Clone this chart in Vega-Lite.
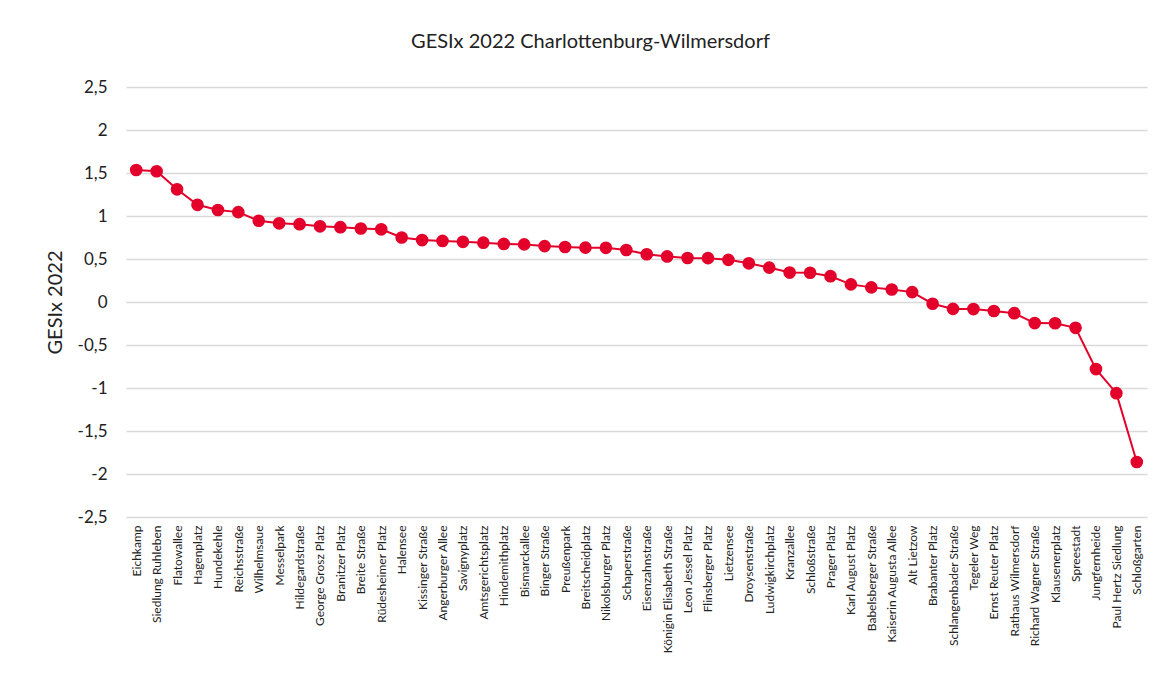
{
  "$schema": "https://vega.github.io/schema/vega-lite/v6.json",
  "width": 1021,
  "height": 430,
  "autosize": {"type": "none"},
  "padding": {"left": 126, "top": 87, "right": 18, "bottom": 163},
  "background": "white",
  "title": {
    "text": "GESIx 2022 Charlottenburg-Wilmersdorf",
    "font": "Lato",
    "fontSize": 20,
    "fontWeight": "normal",
    "color": "#222222",
    "anchor": "middle",
    "dx": -46,
    "offset": 26
  },
  "data": {
    "values": [
      {"gebiet": "Eichkamp", "gesix": 1.535},
      {"gebiet": "Siedlung Ruhleben", "gesix": 1.52},
      {"gebiet": "Flatowallee", "gesix": 1.31},
      {"gebiet": "Hagenplatz", "gesix": 1.13},
      {"gebiet": "Hundekehle", "gesix": 1.07},
      {"gebiet": "Reichsstraße", "gesix": 1.045},
      {"gebiet": "Wilhelmsaue", "gesix": 0.945},
      {"gebiet": "Messelpark", "gesix": 0.915},
      {"gebiet": "Hildegardstraße", "gesix": 0.905},
      {"gebiet": "George Grosz Platz", "gesix": 0.88},
      {"gebiet": "Branitzer Platz", "gesix": 0.87},
      {"gebiet": "Breite Straße", "gesix": 0.855},
      {"gebiet": "Rüdesheimer Platz", "gesix": 0.845},
      {"gebiet": "Halensee", "gesix": 0.75},
      {"gebiet": "Kissinger Straße", "gesix": 0.72},
      {"gebiet": "Angerburger Allee", "gesix": 0.71},
      {"gebiet": "Savignyplatz", "gesix": 0.70},
      {"gebiet": "Amtsgerichtsplatz", "gesix": 0.69},
      {"gebiet": "Hindemithplatz", "gesix": 0.675},
      {"gebiet": "Bismarckallee", "gesix": 0.67},
      {"gebiet": "Binger Straße", "gesix": 0.65},
      {"gebiet": "Preußenpark", "gesix": 0.64},
      {"gebiet": "Breitscheidplatz", "gesix": 0.632},
      {"gebiet": "Nikolsburger Platz", "gesix": 0.63},
      {"gebiet": "Schaperstraße", "gesix": 0.605},
      {"gebiet": "Eisenzahnstraße", "gesix": 0.555},
      {"gebiet": "Königin Elisabeth Straße", "gesix": 0.53},
      {"gebiet": "Leon Jessel Platz", "gesix": 0.512},
      {"gebiet": "Flinsberger Platz", "gesix": 0.51},
      {"gebiet": "Lietzensee", "gesix": 0.49},
      {"gebiet": "Droysenstraße", "gesix": 0.45},
      {"gebiet": "Ludwigkirchplatz", "gesix": 0.40},
      {"gebiet": "Kranzallee", "gesix": 0.342},
      {"gebiet": "Schloßstraße", "gesix": 0.34},
      {"gebiet": "Prager Platz", "gesix": 0.30},
      {"gebiet": "Karl August Platz", "gesix": 0.205},
      {"gebiet": "Babelsberger Straße", "gesix": 0.17},
      {"gebiet": "Kaiserin Augusta Allee", "gesix": 0.145},
      {"gebiet": "Alt Lietzow", "gesix": 0.115},
      {"gebiet": "Brabanter Platz", "gesix": -0.02},
      {"gebiet": "Schlangenbader Straße", "gesix": -0.08},
      {"gebiet": "Tegeler Weg", "gesix": -0.082},
      {"gebiet": "Ernst Reuter Platz", "gesix": -0.105},
      {"gebiet": "Rathaus Wilmersdorf", "gesix": -0.13},
      {"gebiet": "Richard Wagner Straße", "gesix": -0.245},
      {"gebiet": "Klausenerplatz", "gesix": -0.247},
      {"gebiet": "Spreestadt", "gesix": -0.30},
      {"gebiet": "Jungfernheide", "gesix": -0.78},
      {"gebiet": "Paul Hertz Siedlung", "gesix": -1.06},
      {"gebiet": "Schloßgarten", "gesix": -1.86}
    ]
  },
  "encoding": {
    "x": {
      "field": "gebiet",
      "type": "nominal",
      "sort": null,
      "scale": {"type": "point", "padding": 0.5},
      "axis": {
        "title": null,
        "labelAngle": -90,
        "labelAlign": "right",
        "labelBaseline": "middle",
        "labelFont": "Lato",
        "labelFontSize": 12,
        "labelColor": "#222222",
        "labelPadding": 8,
        "ticks": false,
        "domain": false,
        "grid": false,
        "labelOverlap": false
      }
    },
    "y": {
      "field": "gesix",
      "type": "quantitative",
      "scale": {"domain": [-2.5, 2.5], "nice": false, "zero": false},
      "axis": {
        "title": "GESIx 2022",
        "titleFont": "Lato",
        "titleFontSize": 20,
        "titleFontWeight": "normal",
        "titleColor": "#222222",
        "titlePadding": 12,
        "values": [-2.5, -2, -1.5, -1, -0.5, 0, 0.5, 1, 1.5, 2, 2.5],
        "labelExpr": "replace(toString(datum.value), '.', ',')",
        "labelFont": "Lato",
        "labelFontSize": 17,
        "labelColor": "#222222",
        "labelPadding": 19,
        "ticks": false,
        "domain": false,
        "grid": true,
        "gridColor": "#d9d9d9",
        "gridWidth": 1.5
      }
    }
  },
  "layer": [
    {
      "mark": {"type": "rule", "color": "#000000", "strokeWidth": 1.5},
      "encoding": {"y": {"datum": 0}}
    },
    {
      "mark": {"type": "line", "color": "#e3002a", "strokeWidth": 2}
    },
    {
      "mark": {"type": "circle", "color": "#e3002a", "opacity": 1, "size": 160}
    }
  ],
  "config": {
    "view": {"stroke": null}
  }
}
